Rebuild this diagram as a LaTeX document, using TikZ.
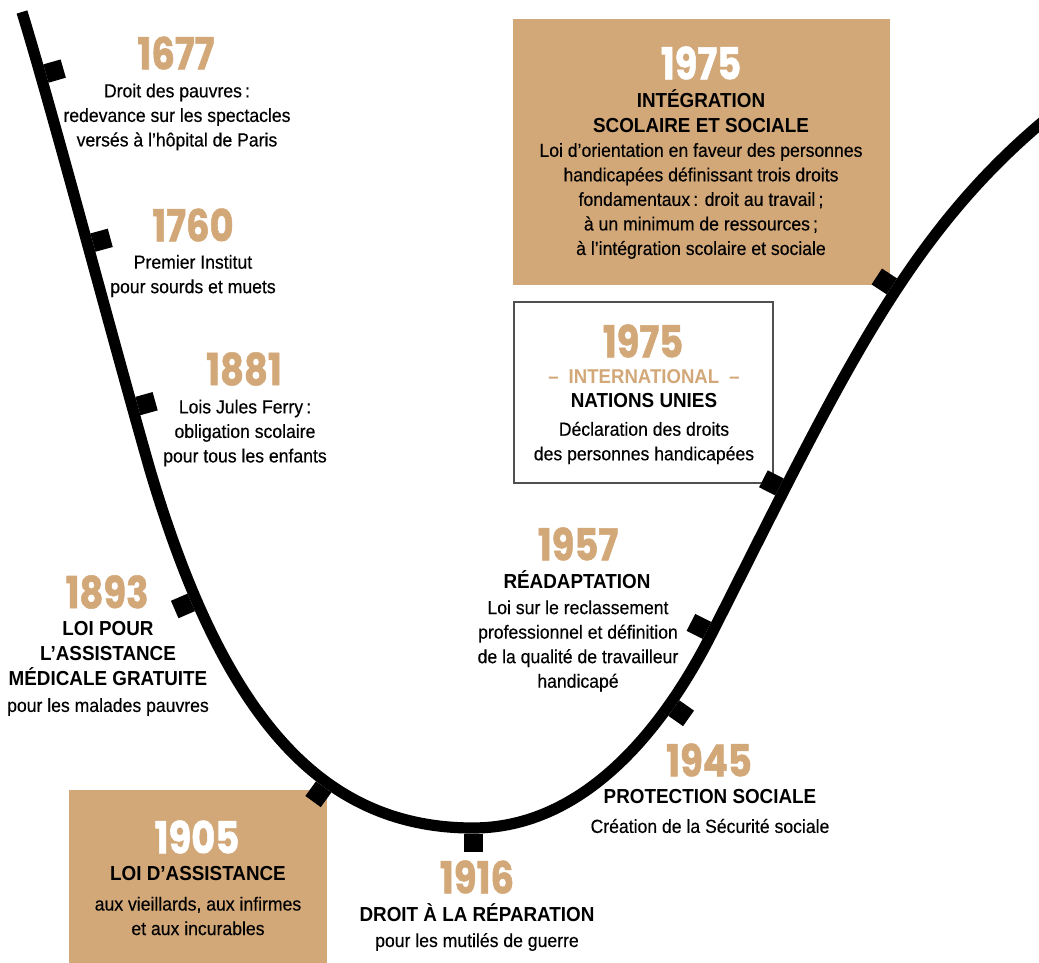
\documentclass[tikz,border=0pt]{standalone}
\usepackage{fontspec}
\setmainfont{Liberation Sans}[FakeStretch=0.93, UprightFeatures={FakeBold=0.35}]
\newfontfamily\yearfont{Poppins}[FakeStretch=0.84, BoldFeatures={FakeBold=1.2}]
\usetikzlibrary{calc}
\definecolor{tan}{RGB}{211,168,121}
\definecolor{boxgray}{RGB}{80,80,80}
\begin{document}
\begin{tikzpicture}[x=0.75pt,y=-0.75pt,
  yr/.style={font=\yearfont\bfseries\fontsize{33pt}{33pt}\selectfont, text=tan, inner sep=0pt},
  yrw/.style={yr, text=white},
  ttl/.style={font=\bfseries\fontsize{15.2pt}{18.75pt}\selectfont, align=center, inner sep=0pt},
  txt/.style={font=\fontsize{14.2pt}{18.4pt}\selectfont, align=center, inner sep=0pt},
  intl/.style={font=\bfseries\fontsize{15pt}{18pt}\selectfont, text=tan, inner sep=0pt},
  curve/.style={line width=8.4pt},
  tickbar/.style={shape=rectangle, fill=black, draw=none, inner sep=0pt, minimum width=14.25pt, minimum height=13.5pt, sloped},
  tickin/.style={tickbar, anchor=south},
  tickout/.style={tickbar, anchor=north},
  tanbox/.style={fill=tan, draw=none},
  unbox/.style={fill=white, draw=boxgray, line width=0.9pt},
]
\useasboundingbox (0,0) rectangle (1039,963);
\clip (0,0) rectangle (1039,963);

% boxes
\fill[tanbox] (513,19) rectangle (890,285);
\filldraw[unbox] (514,302) rectangle (773,483);
\fill[tanbox] (69,790) rectangle (327,963);

% curve
\coordinate (a0) at (22,12);
\coordinate (a1) at (150,470);
\coordinate (a2) at (473,828);
\coordinate (a3) at (712,633);
\coordinate (a4) at (1039,125);
\draw[curve] (a0)
  .. controls (55,120) and (110,330) ..
     node[tickin, pos=0.17] (k1677) {}
     node[tickin, pos=0.53] (k1760) {}
     node[tickin, pos=0.86] (k1881) {}
  (a1)
  .. controls (222,712) and (318,828) ..
     node[tickout, pos=0.2] (k1893) {}
     node[tickout, pos=0.64] (k1905) {}
     node[tickout, pos=1] (k1916) {}
  (a2)
  .. controls (583,828) and (662.5,731) ..
     node[tickout, pos=0.75] (k1945) {}
     node[tickin, pos=1] (k1957) {}
  (a3)
  .. controls (838,384) and (902,242) ..
     node[tickin, pos=0.21] (kUN) {}
     node[tickin, pos=0.585] (k1975) {}
  (a4) -- ++(40,-34);

% 1677
\node[yr] (y1677) at (176,53) {1677};
\node[txt] (d1677) at (177,117) {Droit des pauvres\,:\\redevance sur les spectacles\\versés à l’hôpital de Paris};
% 1760
\node[yr] (y1760) at (193,225) {1760};
\node[txt] (d1760) at (193,276) {Premier Institut\\pour sourds et muets};
% 1881
\node[yr] (y1881) at (244,369) {1881};
\node[txt] (d1881) at (245,433) {Lois Jules Ferry\,:\\obligation scolaire\\pour tous les enfants};
% 1893
\node[yr] (y1893) at (107,592) {1893};
\node[ttl] (h1893) at (108,654) {LOI POUR\\L’ASSISTANCE\\MÉDICALE GRATUITE};
\node[txt] (d1893) at (108,707) {pour les malades pauvres};
% 1905
\node[yrw] (y1905) at (197,837) {1905};
\node[ttl] (h1905) at (198,874) {LOI D’ASSISTANCE};
\node[txt] (d1905) at (198,916) {aux vieillards, aux infirmes\\et aux incurables};
% 1916
\node[yr] (y1916) at (477,877) {1916};
\node[ttl] (h1916) at (477,913) {DROIT À LA RÉPARATION};
\node[txt] (d1916) at (477,942) {pour les mutilés de guerre};
% 1945
\node[yr] (y1945) at (709,760) {1945};
\node[ttl] (h1945) at (710,797) {PROTECTION SOCIALE};
\node[txt] (d1945) at (710,826) {Création de la Sécurité sociale};
% 1957
\node[yr] (y1957) at (578,544) {1957};
\node[ttl] (h1957) at (577,580) {RÉADAPTATION};
\node[txt] (d1957) at (578,646) {Loi sur le reclassement\\professionnel et définition\\de la qualité de travailleur\\handicapé};
% 1975 UN
\node[yr] (yUN) at (643,341) {1975};
\node[intl] (iUN) at (644,377) {–\enspace INTERNATIONAL\enspace–};
\node[ttl] (hUN) at (644,401) {NATIONS UNIES};
\node[txt] (dUN) at (644,443) {Déclaration des droits\\des personnes handicapées};
% 1975
\node[yrw] (y1975) at (701,63) {1975};
\node[ttl] (h1975) at (701,111) {INTÉGRATION\\SCOLAIRE ET SOCIALE};
\node[txt] (d1975) at (701,201) {Loi d’orientation en faveur des personnes\\handicapées définissant trois droits\\fondamentaux\,: droit au travail\,;\\à un minimum de ressources\,;\\à l’intégration scolaire et sociale};
\end{tikzpicture}
\end{document}
